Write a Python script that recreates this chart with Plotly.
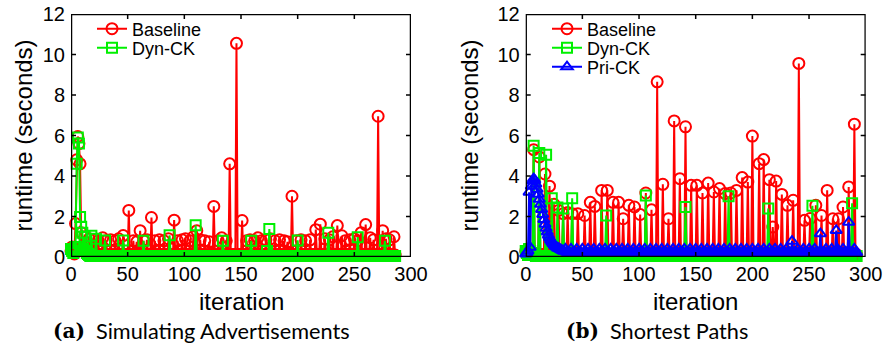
import plotly.graph_objects as go

W, H = 891, 350

# ---------------- data ----------------
iter_a = list(range(287))
iter_b = list(range(293))

baseline_a = [
    0.30, 0.50, 0.20, 0.15, 1.65, 4.80, 5.95, 5.60, 4.60, 1.20,
    0.50, 0.30, 1.00, 0.20, 0.10, 0.12, 0.90, 0.10, 0.12, 0.10,
    0.85, 0.10, 0.12, 0.10, 0.80, 0.10, 0.12, 0.10, 0.95, 0.10,
    0.12, 0.80, 0.10, 0.12, 0.10, 0.85, 0.10, 0.12, 0.10, 0.80,
    0.10, 0.12, 0.90, 0.10, 0.12, 0.10, 1.06, 0.10, 0.12, 0.10,
    0.12, 2.30, 0.10, 0.12, 0.10, 0.80, 0.10, 0.12, 0.75, 0.10,
    0.12, 1.30, 0.10, 0.12, 0.80, 0.10, 0.12, 0.85, 0.10, 0.12,
    0.10, 1.95, 0.10, 0.12, 0.80, 0.10, 0.12, 0.10, 0.85, 0.10,
    0.12, 0.10, 0.80, 0.10, 0.12, 0.10, 0.90, 0.10, 0.12, 0.10,
    0.12, 1.82, 0.10, 0.12, 0.80, 0.10, 0.12, 0.10, 0.85, 0.10,
    0.12, 0.90, 0.10, 0.12, 0.10, 0.80, 0.10, 0.12, 1.00, 0.10,
    0.12, 1.30, 0.10, 0.12, 0.85, 0.10, 0.12, 0.10, 0.80, 0.10,
    0.12, 0.10, 0.75, 0.10, 0.12, 0.10, 2.50, 0.10, 0.12, 0.10,
    0.80, 0.10, 0.12, 0.95, 0.10, 0.12, 0.10, 0.80, 0.10, 0.12,
    4.60, 0.10, 0.12, 0.10, 0.12, 0.10, 10.55, 0.10, 0.12, 0.10,
    0.12, 1.80, 0.10, 0.12, 0.10, 0.80, 0.10, 0.12, 0.85, 0.10,
    0.12, 0.10, 0.80, 0.10, 0.12, 0.95, 0.10, 0.12, 0.80, 0.10,
    0.12, 0.10, 0.85, 0.10, 0.12, 0.10, 0.90, 0.10, 0.12, 0.10,
    0.80, 0.10, 0.12, 0.10, 0.85, 0.10, 0.12, 0.10, 0.80, 0.10,
    0.12, 0.75, 0.10, 0.12, 0.10, 3.00, 0.10, 0.12, 0.10, 0.80,
    0.10, 0.12, 0.10, 0.85, 0.10, 0.12, 0.10, 0.80, 0.10, 0.12,
    0.10, 0.85, 0.10, 0.12, 0.10, 0.12, 1.35, 0.10, 0.12, 0.10,
    1.62, 0.10, 0.12, 0.10, 0.90, 0.10, 0.12, 0.10, 0.85, 0.10,
    0.12, 1.00, 0.10, 0.12, 0.10, 1.55, 0.10, 0.12, 0.10, 1.05,
    0.10, 0.12, 0.80, 0.10, 0.12, 0.10, 0.85, 0.10, 0.12, 0.10,
    0.90, 0.10, 0.12, 0.80, 0.10, 0.12, 1.20, 0.10, 0.12, 0.10,
    1.60, 0.10, 0.12, 0.10, 0.95, 0.10, 0.12, 0.85, 0.10, 0.12,
    0.10, 6.95, 0.10, 0.12, 0.10, 1.30, 0.10, 0.12, 0.90, 0.10,
    0.12, 0.85, 0.10, 0.12, 0.10, 1.00, 0.10,
]

dynck_a = [
    0.40, 0.30, 0.20, 0.30, 0.50, 4.60, 5.90, 5.60, 1.97, 1.50,
    1.20, 0.40, 1.00, 0.30, 0.20, 0.15, 0.10, 0.05, 1.05, 0.05,
    0.05, 0.05, 0.90, 0.05, 0.05, 0.05, 0.05, 0.05, 0.05, 0.05,
    0.82, 0.05, 0.05, 0.05, 0.05, 0.05, 0.05, 0.05, 0.05, 0.05,
    0.05, 0.05, 0.05, 0.05, 0.05, 0.05, 0.82, 0.05, 0.05, 0.05,
    0.05, 0.05, 0.05, 0.05, 0.05, 0.05, 0.05, 0.05, 0.05, 0.05,
    0.05, 0.05, 0.05, 0.05, 0.80, 0.05, 0.05, 0.05, 0.05, 0.05,
    0.05, 0.05, 0.05, 0.05, 0.05, 0.05, 0.05, 0.05, 0.05, 0.05,
    0.05, 0.05, 0.05, 0.05, 0.05, 0.05, 0.05, 1.07, 0.05, 0.05,
    0.05, 0.05, 0.05, 0.05, 0.05, 0.05, 0.05, 0.05, 0.05, 0.05,
    0.05, 0.05, 0.05, 0.05, 0.05, 0.05, 0.05, 0.05, 0.05, 0.05,
    1.57, 0.05, 0.05, 0.05, 0.05, 0.05, 0.05, 0.05, 0.05, 0.05,
    0.05, 0.05, 0.05, 0.05, 0.05, 0.05, 0.05, 0.05, 0.05, 0.05,
    0.05, 0.05, 0.05, 0.05, 0.80, 0.05, 0.05, 0.05, 0.05, 0.05,
    0.05, 0.05, 0.05, 0.05, 0.05, 0.05, 0.05, 0.05, 0.05, 0.05,
    0.05, 0.05, 0.05, 0.05, 0.05, 0.05, 0.05, 0.05, 0.05, 0.80,
    0.05, 0.05, 0.05, 0.05, 0.05, 0.05, 0.05, 0.05, 0.05, 0.05,
    0.05, 0.05, 0.05, 0.30, 0.05, 1.38, 0.05, 0.05, 0.05, 0.05,
    0.05, 0.05, 0.05, 0.05, 0.05, 0.05, 0.05, 0.05, 0.05, 0.05,
    0.05, 0.05, 0.05, 0.05, 0.05, 0.05, 0.05, 0.05, 0.05, 0.05,
    0.82, 0.05, 0.05, 0.05, 0.05, 0.05, 0.05, 0.05, 0.05, 0.05,
    0.05, 0.05, 0.05, 0.05, 0.05, 0.05, 0.05, 0.05, 0.05, 0.05,
    0.05, 0.05, 0.05, 0.05, 0.05, 0.05, 0.05, 1.20, 0.05, 0.05,
    0.05, 0.05, 0.05, 0.05, 0.05, 0.05, 0.05, 0.05, 0.05, 0.05,
    0.05, 0.05, 0.05, 0.05, 0.05, 0.05, 0.05, 0.05, 0.05, 0.05,
    0.05, 0.05, 0.05, 0.98, 0.05, 0.05, 0.05, 0.05, 0.05, 0.05,
    0.05, 0.05, 0.05, 0.05, 0.05, 0.05, 0.05, 0.05, 0.05, 0.05,
    0.05, 0.05, 0.05, 0.05, 0.05, 0.05, 0.05, 0.80, 0.05, 0.05,
    0.05, 0.05, 0.05, 0.05, 0.05, 0.05, 0.05,
]

baseline_b = [
    0.30, 0.20, 0.40, 0.30, 0.20, 0.15, 0.10, 5.30, 0.10, 0.12,
    0.10, 0.12, 4.94, 0.10, 0.12, 0.10, 0.12, 4.10, 0.10, 0.12,
    0.10, 3.50, 0.10, 0.12, 0.10, 2.60, 0.10, 0.12, 0.10, 2.30,
    0.10, 0.12, 0.10, 2.14, 0.10, 0.12, 0.10, 2.20, 0.10, 0.12,
    0.10, 2.14, 0.10, 0.12, 0.10, 0.12, 2.14, 0.10, 0.12, 0.10,
    0.12, 0.10, 2.05, 0.10, 0.12, 0.10, 0.12, 2.70, 0.10, 0.12,
    0.10, 2.50, 0.10, 0.12, 0.10, 0.12, 0.10, 3.29, 0.10, 0.12,
    0.10, 0.12, 3.29, 0.10, 0.12, 0.10, 0.12, 2.70, 0.10, 0.12,
    0.10, 0.12, 2.70, 0.10, 0.12, 0.10, 1.89, 0.10, 0.12, 0.10,
    0.12, 2.55, 0.10, 0.12, 0.10, 0.12, 2.47, 0.10, 0.12, 0.10,
    0.12, 2.10, 0.10, 0.12, 0.10, 0.12, 3.16, 0.10, 0.12, 0.10,
    0.12, 2.33, 0.10, 0.12, 0.10, 0.12, 8.65, 0.10, 0.12, 0.10,
    0.12, 3.59, 0.10, 0.12, 0.10, 0.12, 1.89, 0.10, 0.12, 0.10,
    0.12, 6.72, 0.10, 0.12, 0.10, 0.12, 3.87, 0.10, 0.12, 0.10,
    0.12, 6.43, 0.10, 0.12, 0.10, 0.12, 3.54, 0.10, 0.12, 0.10,
    0.12, 3.54, 0.10, 0.12, 0.10, 0.12, 3.16, 0.10, 0.12, 0.10,
    0.12, 3.65, 0.10, 0.12, 0.10, 0.12, 3.21, 0.10, 0.12, 0.10,
    0.12, 3.38, 0.10, 0.12, 0.10, 0.12, 3.13, 0.10, 0.12, 0.10,
    0.12, 3.16, 0.10, 0.12, 0.10, 0.12, 3.29, 0.10, 0.12, 0.10,
    0.12, 3.92, 0.10, 0.12, 0.10, 0.12, 3.70, 0.10, 0.12, 0.10,
    5.97, 0.10, 0.12, 0.10, 0.12, 0.10, 4.61, 0.10, 0.12, 0.10,
    4.81, 0.10, 0.12, 0.10, 0.12, 3.82, 0.10, 0.12, 1.48, 0.10,
    0.12, 3.75, 0.10, 0.12, 0.10, 0.12, 3.09, 0.10, 0.12, 0.10,
    0.12, 2.55, 0.10, 0.12, 0.10, 0.12, 2.80, 0.10, 0.12, 0.10,
    0.12, 9.56, 0.10, 0.12, 0.10, 0.12, 1.81, 0.10, 0.12, 0.10,
    0.12, 1.90, 0.10, 0.12, 0.10, 0.12, 2.55, 0.10, 0.12, 0.10,
    0.12, 2.05, 0.10, 0.12, 0.10, 0.12, 3.29, 0.10, 0.12, 0.10,
    0.12, 1.89, 0.10, 0.12, 0.10, 0.12, 1.89, 0.10, 0.12, 0.10,
    2.47, 0.10, 0.12, 0.10, 0.12, 3.46, 0.10, 0.12, 0.10, 0.12,
    6.56, 0.10, 0.12,
]

dynck_b = [
    0.30, 0.20, 0.10, 0.40, 0.30, 0.20, 0.10, 5.50, 0.10, 0.05,
    0.05, 0.05, 5.14, 0.05, 0.05, 0.05, 0.05, 0.05, 5.05, 0.05,
    0.05, 0.05, 0.05, 2.90, 0.05, 0.05, 0.05, 0.05, 2.45, 0.05,
    0.05, 0.05, 0.05, 2.40, 0.05, 0.05, 0.05, 0.05, 0.05, 0.05,
    0.05, 2.90, 0.05, 0.05, 0.05, 0.05, 0.05, 0.05, 0.05, 0.05,
    0.05, 0.05, 0.05, 0.05, 0.05, 0.05, 0.05, 0.05, 0.05, 0.05,
    0.05, 0.05, 0.05, 0.05, 0.05, 0.05, 0.05, 0.05, 0.05, 0.05,
    0.05, 2.05, 0.05, 0.05, 0.05, 0.05, 0.05, 0.05, 0.05, 0.05,
    0.05, 0.05, 0.05, 0.05, 0.05, 0.05, 0.05, 0.05, 0.05, 0.05,
    0.05, 0.05, 0.05, 0.05, 0.05, 0.05, 0.05, 0.05, 0.05, 0.05,
    0.05, 0.05, 0.05, 0.05, 0.05, 0.05, 3.04, 0.05, 0.05, 0.05,
    0.05, 0.05, 0.05, 0.05, 0.05, 0.05, 0.05, 0.05, 0.05, 0.05,
    0.05, 0.05, 0.05, 0.05, 0.05, 0.05, 0.05, 0.05, 0.05, 0.05,
    0.05, 0.05, 0.05, 0.05, 0.05, 0.05, 0.05, 0.05, 0.05, 0.05,
    0.05, 2.47, 0.05, 0.05, 0.05, 0.05, 0.05, 0.05, 0.05, 0.05,
    0.05, 0.05, 0.05, 0.05, 0.05, 0.05, 0.05, 0.05, 0.05, 0.05,
    0.05, 0.05, 0.05, 0.05, 0.05, 0.05, 0.05, 0.05, 0.05, 0.05,
    0.05, 0.05, 0.05, 0.05, 0.05, 0.05, 0.05, 0.05, 0.05, 3.00,
    0.05, 0.05, 0.05, 0.05, 0.05, 0.05, 0.05, 0.05, 0.05, 0.05,
    0.05, 0.05, 0.05, 0.05, 0.05, 0.05, 0.05, 0.05, 0.05, 0.05,
    0.05, 0.05, 0.05, 0.05, 0.05, 0.05, 0.05, 0.05, 0.05, 0.05,
    0.05, 0.05, 0.05, 0.05, 2.40, 0.05, 0.05, 0.05, 0.05, 0.05,
    0.05, 0.05, 0.05, 0.05, 0.05, 0.05, 0.05, 0.05, 0.05, 0.05,
    0.05, 0.05, 0.05, 0.05, 0.05, 0.05, 0.05, 0.05, 0.05, 0.05,
    0.05, 0.05, 0.05, 0.05, 0.05, 0.05, 0.05, 0.05, 0.05, 0.05,
    0.05, 0.05, 0.05, 2.53, 0.05, 0.05, 0.05, 0.05, 0.05, 0.05,
    0.05, 0.05, 0.05, 0.05, 0.05, 0.05, 0.05, 0.05, 0.05, 0.05,
    0.05, 0.05, 0.05, 0.05, 0.05, 0.05, 0.05, 0.05, 0.05, 0.05,
    0.05, 0.05, 0.05, 0.05, 0.05, 0.05, 0.05, 0.05, 2.65, 0.05,
    0.05, 0.05, 0.05,
]

prick_b = [
    0.15, 0.20, 0.30, 3.20, 0.48, 3.50, 3.75, 3.87, 3.80, 3.60,
    3.35, 3.10, 2.85, 2.60, 2.35, 2.10, 1.85, 1.62, 1.42, 1.24,
    1.08, 0.95, 0.84, 0.75, 0.67, 0.60, 0.54, 0.49, 0.45, 0.42,
    0.40, 0.36, 0.33, 0.30, 0.28, 0.40, 0.24, 0.22, 0.22, 0.22,
    0.40, 0.22, 0.22, 0.22, 0.22, 0.40, 0.22, 0.22, 0.22, 0.22,
    0.40, 0.22, 0.22, 0.22, 0.22, 0.40, 0.22, 0.22, 0.22, 0.22,
    0.40, 0.22, 0.22, 0.22, 0.22, 0.40, 0.22, 0.22, 0.22, 0.22,
    0.40, 0.22, 0.22, 0.22, 0.22, 0.40, 0.22, 0.22, 0.22, 0.22,
    0.40, 0.22, 0.22, 0.22, 0.22, 0.40, 0.22, 0.22, 0.22, 0.22,
    0.40, 0.22, 0.22, 0.22, 0.22, 0.40, 0.22, 0.22, 0.22, 0.22,
    0.40, 0.22, 0.22, 0.22, 0.22, 0.40, 0.22, 0.22, 0.22, 0.22,
    0.40, 0.22, 0.22, 0.22, 0.22, 0.40, 0.22, 0.22, 0.22, 0.22,
    0.40, 0.22, 0.22, 0.22, 0.22, 0.40, 0.22, 0.22, 0.22, 0.22,
    0.40, 0.22, 0.22, 0.22, 0.22, 0.40, 0.22, 0.22, 0.22, 0.22,
    0.40, 0.22, 0.22, 0.22, 0.22, 0.40, 0.22, 0.22, 0.22, 0.22,
    0.40, 0.22, 0.22, 0.22, 0.22, 0.40, 0.22, 0.22, 0.22, 0.22,
    0.40, 0.22, 0.22, 0.22, 0.22, 0.40, 0.22, 0.22, 0.22, 0.22,
    0.40, 0.22, 0.22, 0.22, 0.22, 0.40, 0.22, 0.22, 0.22, 0.22,
    0.40, 0.22, 0.22, 0.22, 0.22, 0.40, 0.22, 0.22, 0.22, 0.22,
    0.40, 0.22, 0.22, 0.22, 0.22, 0.40, 0.22, 0.22, 0.22, 0.22,
    0.40, 0.22, 0.22, 0.22, 0.22, 0.40, 0.22, 0.22, 0.22, 0.22,
    0.40, 0.22, 0.22, 0.22, 0.22, 0.40, 0.22, 0.22, 0.22, 0.22,
    0.40, 0.22, 0.22, 0.22, 0.22, 0.40, 0.22, 0.22, 0.22, 0.22,
    0.40, 0.22, 0.22, 0.22, 0.22, 0.78, 0.22, 0.22, 0.22, 0.22,
    0.40, 0.22, 0.22, 0.22, 0.22, 0.40, 0.22, 0.22, 0.22, 0.22,
    0.40, 0.22, 0.22, 0.22, 0.22, 0.40, 0.22, 0.22, 0.22, 0.22,
    1.15, 0.22, 0.22, 0.22, 0.22, 0.40, 0.22, 0.22, 0.22, 0.22,
    0.40, 0.22, 0.22, 0.22, 1.31, 0.40, 0.22, 0.22, 0.22, 0.22,
    0.40, 0.22, 0.22, 0.22, 0.22, 1.72, 0.22, 0.22, 0.22, 0.22,
    0.40, 0.22, 0.22,
]

x_ticks = [0, 50, 100, 150, 200, 250, 300]
y_ticks = [0, 2, 4, 6, 8, 10, 12]
x_range = [0, 300]
y_range = [0, 12]

RED, GREEN, BLUE = "#ff0000", "#00f000", "#0000ff"
INK = "#000000"
FONT = "Liberation Sans, Arial, sans-serif"


def px(x):
    return x / W


def py(y):
    return 1 - y / H


fig = go.Figure()


def add(xs, ys, name, color, symbol, size, xa, ya, legend):
    fig.add_trace(go.Scatter(
        x=xs, y=ys, name=name, mode="lines+markers",
        line=dict(color=color, width=2),
        marker=dict(symbol=symbol, size=size, color=color,
                    line=dict(color=color, width=2)),
        xaxis=xa, yaxis=ya, cliponaxis=False, legend=legend,
        hoverinfo="x+y+name",
    ))


add(iter_a, baseline_a, "Baseline", RED, "circle-open", 11, "x", "y", "legend")
add(iter_a, dynck_a, "Dyn-CK", GREEN, "square-open", 10, "x", "y", "legend2")
add(iter_b, baseline_b, "Baseline", RED, "circle-open", 11, "x2", "y2", "legend3")
add(iter_b, dynck_b, "Dyn-CK", GREEN, "square-open", 10, "x2", "y2", "legend4")
add(iter_b, prick_b, "Pri-CK", BLUE, "triangle-up-open", 10, "x2", "y2", "legend5")

BOX_X = [(71.0, 411.0), (525.7, 865.7)]
BOX_T, BOX_B = 14.0, 257.0
PLOT_W = 340.0
PLOT_H = BOX_B - BOX_T
TL = 5.0  # inside tick length in px

# frame + mirrored inside ticks, drawn as unclipped black line traces
for xa, ya in (("x", "y"), ("x2", "y2")):
    x0, x1 = x_range
    y0, y1 = y_range
    dx = TL / PLOT_W * (x1 - x0)
    dy = TL / PLOT_H * (y1 - y0)
    fig.add_trace(go.Scatter(x=[x0, x1, x1, x0, x0], y=[y0, y0, y1, y1, y0],
                             mode="lines", xaxis=xa, yaxis=ya, cliponaxis=False,
                             line=dict(color=INK, width=2.5),
                             showlegend=False, hoverinfo="skip"))
    tx, ty = [], []
    for v in x_ticks[1:-1]:
        tx += [v, v, None, v, v, None]
        ty += [y0, y0 + dy, None, y1, y1 - dy, None]
    for v in y_ticks[1:-1]:
        tx += [x0, x0 + dx, None, x1, x1 - dx, None]
        ty += [v, v, None, v, v, None]
    fig.add_trace(go.Scatter(x=tx, y=ty, mode="lines", xaxis=xa, yaxis=ya,
                             cliponaxis=False, connectgaps=False,
                             line=dict(color=INK, width=1.5),
                             showlegend=False, hoverinfo="skip"))

axis_common = dict(
    showline=False, ticks="", showgrid=False, zeroline=False,
    fixedrange=True, automargin=False,
    tickfont=dict(family=FONT, size=20, color="black"),
)

XDOM_A = [px(BOX_X[0][0]), px(BOX_X[0][1])]
XDOM_B = [px(BOX_X[1][0]), px(BOX_X[1][1])]
YDOM = [py(BOX_B), py(BOX_T)]
fig.update_layout(
    template="none",
    width=W, height=H, margin=dict(l=0, r=0, t=0, b=0, pad=0),
    paper_bgcolor="white", plot_bgcolor="white",
    xaxis=dict(domain=XDOM_A, range=x_range, tickvals=x_ticks,
               anchor="y", ticklabelstandoff=3, **axis_common),
    yaxis=dict(domain=YDOM, range=y_range, tickvals=y_ticks, anchor="x",
               ticklabelstandoff=5, **axis_common),
    xaxis2=dict(domain=XDOM_B, range=x_range, tickvals=x_ticks,
                anchor="y2", ticklabelstandoff=3, **axis_common),
    yaxis2=dict(domain=YDOM, range=y_range, tickvals=y_ticks, anchor="x2",
                ticklabelstandoff=5, **axis_common),
    showlegend=True,
)

leg_common = dict(xanchor="left", yanchor="middle", bgcolor="rgba(0,0,0,0)",
                  borderwidth=0, font=dict(family=FONT, size=18, color="black"),
                  itemclick=False, itemdoubleclick=False)
fig.update_layout(
    legend=dict(x=px(92), y=py(29), **leg_common),
    legend2=dict(x=px(92), y=py(48), **leg_common),
    legend3=dict(x=px(547), y=py(29), **leg_common),
    legend4=dict(x=px(547), y=py(48), **leg_common),
    legend5=dict(x=px(547), y=py(67), **leg_common),
)

ann = []
for cx in (23, 469):
    ann.append(dict(x=px(cx), y=py(135.5), text="runtime (seconds)", textangle=-90,
                    showarrow=False, xanchor="center", yanchor="middle",
                    font=dict(family=FONT, size=24, color="black")))
for cx in (241, 695):
    ann.append(dict(x=px(cx), y=py(301), text="iteration", showarrow=False,
                    xanchor="center", yanchor="middle",
                    font=dict(family=FONT, size=24, color="black")))
captions = [((87, 94), "(a)", "Simulating Advertisements"),
            ((601, 608), "(b)", "Shortest Paths")]
for (xr, xl), tag, txt in captions:
    ann.append(dict(x=px(xr), y=py(331), text="<b>" + tag + "</b>", showarrow=False,
                    xanchor="right", yanchor="middle",
                    font=dict(family="DejaVu Serif, serif", size=20, color="black")))
    ann.append(dict(x=px(xl), y=py(331), text=txt, showarrow=False,
                    xanchor="left", yanchor="middle",
                    font=dict(family="Lato, sans-serif", size=21.7, color="black")))
for a in ann:
    a["xref"] = "paper"
    a["yref"] = "paper"
fig.update_layout(annotations=ann)

fig.write_html("out.html", config={"displayModeBar": False})
